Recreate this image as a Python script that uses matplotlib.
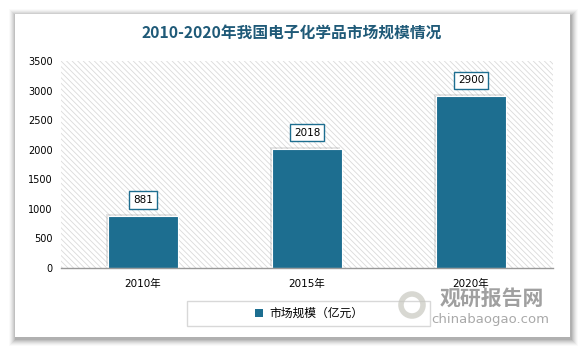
import matplotlib
matplotlib.use("Agg")
import matplotlib.pyplot as plt
from matplotlib.patches import Rectangle
import matplotlib.patheffects as pe

plt.rcParams['font.family'] = ['DejaVu Sans', 'Noto Sans CJK SC']
plt.rcParams['hatch.linewidth'] = 0.6

categories = ['2010年', '2015年', '2020年']
values = [881, 2018, 2900]
yticks = [0, 500, 1000, 1500, 2000, 2500, 3000, 3500]
series_name = '市场规模（亿元）'
title = '2010-2020年我国电子化学品市场规模情况'

W, H = 583, 349
fig = plt.figure(figsize=(W / 100, H / 100), dpi=100)
fig.patch.set_facecolor('white')

# card with soft shadow
bg = fig.add_axes([0, 0, 1, 1])
bg.set_xlim(0, W)
bg.set_ylim(H, 0)
bg.axis('off')
for i, a in enumerate([0.02, 0.03, 0.04, 0.05, 0.06, 0.07, 0.08]):
    d = 7 - i
    bg.add_patch(Rectangle((15 - d + 1, 14 - d + 2), 555 + 2 * d, 323 + 2 * d,
                           facecolor='black', alpha=a, edgecolor='none'))
bg.add_patch(Rectangle((15, 14), 555, 323, facecolor='white', edgecolor='none'))
# legend frame
bg.add_patch(Rectangle((187, 301), 243, 25, facecolor='white', edgecolor='#d8d8d8', lw=1))

fig.text(292 / W, 1 - 33 / H, title, ha='center', va='center', fontsize=11.3,
         fontweight='bold', color='#1f5a78', family=['Noto Sans CJK SC'])

L, R, T, B = 61, 553, 61, 268
ax = fig.add_axes([L / W, 1 - B / H, (R - L) / W, (B - T) / H])
ax.set_facecolor('none')
ax.add_patch(Rectangle((0, 0), 1, 1, transform=ax.transAxes, facecolor='white',
                       edgecolor='#dadada', linewidth=0, hatch='\\\\\\\\\\\\', zorder=0))
x = range(len(categories))
bars = ax.bar(x, values, width=0.43, color='#1d6e90', edgecolor='white',
              linewidth=0.8, zorder=2)
for b in bars:
    b.set_path_effects([pe.SimplePatchShadow(offset=(-1.5, 1.5), shadow_rgbFace='#999999', alpha=0.25),
                        pe.Normal()])
for xi, v in zip(x, values):
    ax.annotate(str(v), (xi, v), xytext=(0, 16), textcoords='offset pixels',
                ha='center', va='center', fontsize=7.5, color='black', zorder=3,
                bbox=dict(boxstyle='square,pad=0.35', facecolor='white', edgecolor='#1d6e90', lw=1))
ax.set_xlim(-0.5, 2.5)
ax.set_ylim(0, 3500)
ax.set_yticks(yticks)
ax.set_yticklabels([str(t) for t in yticks], fontsize=7, color='black')
ax.set_xticks(list(x))
ax.set_xticklabels(categories, fontsize=7.5, color='black', family=['DejaVu Sans', 'Noto Sans CJK SC'])
ax.tick_params(axis='both', length=0, pad=6)
ax.tick_params(axis='x', pad=8)
for s in ['top', 'right', 'left']:
    ax.spines[s].set_visible(False)
ax.spines['bottom'].set_color('#999999')
ax.spines['bottom'].set_linewidth(1)

# watermark
bg.add_patch(plt.Circle((412, 305), 11, facecolor='none', edgecolor='#c8c8c0', lw=4, alpha=0.7))
fig.text(492 / W, 1 - 298 / H, '观研报告网', ha='center', va='center', fontsize=15,
         fontweight='bold', color='#8f8f8f', alpha=0.85, family=['Noto Sans CJK SC'])
fig.text(490 / W, 1 - 319 / H, 'chinabaogao.com', ha='center', va='center', fontsize=9.5,
         color='#9a9a9a', alpha=0.85)

leg = fig.legend(handles=[Rectangle((0, 0), 1, 1, facecolor='#1d6e90')], labels=[series_name],
                 loc='center', bbox_to_anchor=(309 / W, 1 - 313.5 / H), frameon=False,
                 prop={'family': ['Noto Sans CJK SC'], 'size': 8.5}, handlelength=0.7, handleheight=0.7,
                 borderpad=0.3, handletextpad=0.5)

fig.savefig('out.png', dpi=100)
